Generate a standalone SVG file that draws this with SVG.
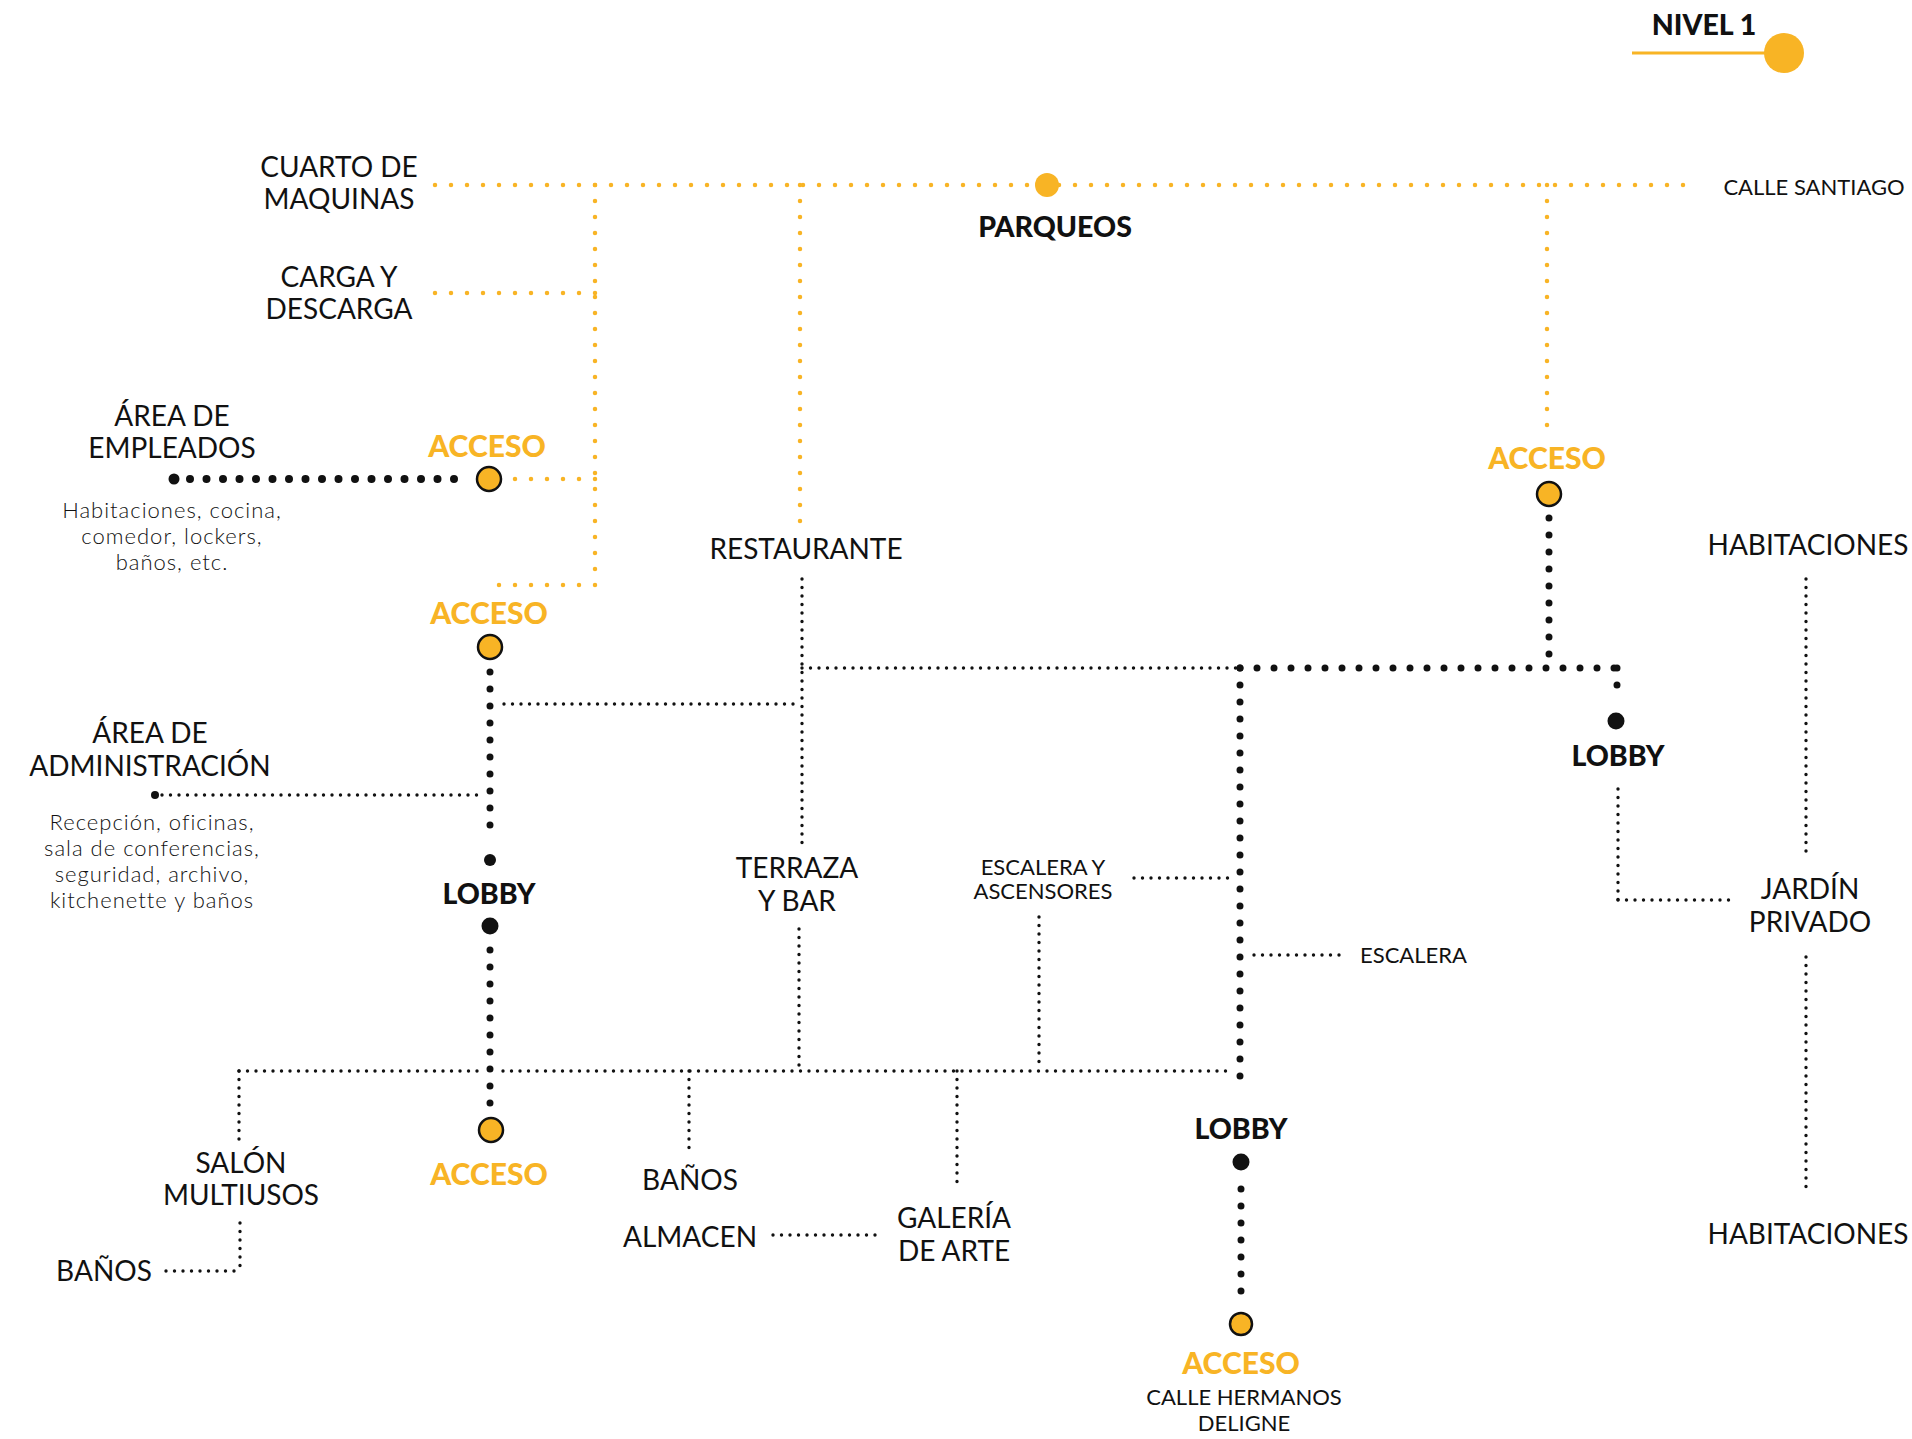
<svg xmlns="http://www.w3.org/2000/svg" width="1912" height="1439" viewBox="0 0 1912 1439">
<style>
.y{stroke:#F8B425;stroke-width:4.5;stroke-dasharray:0 16;stroke-linecap:round;fill:none}
.ks{stroke:#111;stroke-width:3.4;stroke-dasharray:0 8.5;stroke-linecap:round;fill:none}
.kb{stroke:#111;stroke-width:7;stroke-dasharray:0 17;stroke-linecap:round;fill:none}
.ke{stroke:#111;stroke-width:8;stroke-dasharray:0 16.5;stroke-linecap:round;fill:none}
.lbl{font-family:Lato,"Liberation Sans",sans-serif;font-size:28px;fill:#111;text-anchor:middle}
.b{font-family:Lato,"Liberation Sans",sans-serif;font-size:28.5px;font-weight:900;fill:#111;text-anchor:middle}
.acc{font-family:Lato,"Liberation Sans",sans-serif;font-size:30px;font-weight:900;fill:#F8B425;text-anchor:middle}
.sub{font-family:Lato,"Liberation Sans",sans-serif;font-size:22px;font-weight:300;letter-spacing:1px;fill:#111;text-anchor:middle}
.sm{font-family:Lato,"Liberation Sans",sans-serif;font-size:22px;font-weight:400;fill:#111;text-anchor:middle}
.accdot{fill:#F8B425;stroke:#111;stroke-width:2.5}
</style>
<rect width="1912" height="1439" fill="#fff"/>
<g id="connectors">
  <line class="y" x1="435" y1="185" x2="1697" y2="185"/>
  <line class="y" x1="595" y1="185" x2="595" y2="585"/>
  <line class="y" x1="595" y1="585" x2="491" y2="585"/>
  <line class="y" x1="595" y1="293" x2="429" y2="293"/>
  <line class="y" x1="595" y1="479" x2="512" y2="479"/>
  <line class="y" x1="800" y1="185" x2="800" y2="524"/>
  <line class="y" x1="1547" y1="185" x2="1547" y2="429"/>
  <line x1="1632" y1="53" x2="1784" y2="53" stroke="#F8B425" stroke-width="3"/>
  <line class="ke" x1="190" y1="479" x2="470" y2="479"/>
  <circle cx="174" cy="479" r="5.5" fill="#111"/>
  <line class="kb" x1="490" y1="672" x2="490" y2="842"/>
  <circle cx="490" cy="860" r="6" fill="#111"/>
  <circle cx="490" cy="926" r="8.5" fill="#111"/>
  <line class="kb" x1="490" y1="950" x2="490" y2="1108"/>
  <line class="ks" x1="162" y1="795" x2="479" y2="795"/>
  <circle cx="155" cy="795" r="4" fill="#111"/>
  <line class="ks" x1="504" y1="704" x2="801" y2="704"/>
  <line class="ks" x1="802" y1="579" x2="802" y2="845"/>
  <line class="ks" x1="802" y1="668" x2="1236" y2="668"/>
  <line class="kb" x1="1240" y1="668" x2="1617" y2="668"/>
  <line class="kb" x1="1549" y1="518" x2="1549" y2="658"/>
  <line class="kb" x1="1617" y1="668" x2="1617" y2="702"/>
  <circle cx="1616" cy="721" r="8.5" fill="#111"/>
  <line class="kb" x1="1240" y1="668" x2="1240" y2="1091"/>
  <circle cx="1241" cy="1162" r="8.5" fill="#111"/>
  <line class="kb" x1="1241" y1="1189" x2="1241" y2="1299"/>
  <line class="ks" x1="1618" y1="789" x2="1618" y2="900"/>
  <line class="ks" x1="1618" y1="900" x2="1732" y2="900"/>
  <line class="ks" x1="1806" y1="579" x2="1806" y2="854"/>
  <line class="ks" x1="1806" y1="957" x2="1806" y2="1195"/>
  <line class="ks" x1="1134" y1="878" x2="1234" y2="878"/>
  <line class="ks" x1="1039" y1="917" x2="1039" y2="1067"/>
  <line class="ks" x1="1254" y1="955" x2="1345" y2="955"/>
  <line class="ks" x1="799" y1="929" x2="799" y2="1067"/>
  <line class="ks" x1="239" y1="1071" x2="478" y2="1071"/>
  <line class="ks" x1="503" y1="1071" x2="1232" y2="1071"/>
  <line class="ks" x1="239" y1="1071" x2="239" y2="1140"/>
  <line class="ks" x1="240" y1="1223" x2="240" y2="1271"/>
  <line class="ks" x1="166" y1="1271" x2="240" y2="1271"/>
  <line class="ks" x1="689" y1="1071" x2="689" y2="1150"/>
  <line class="ks" x1="773" y1="1235" x2="880" y2="1235"/>
  <line class="ks" x1="957" y1="1071" x2="957" y2="1189"/>
</g>
<g id="nivel1"><text class="b" x="1704" y="35">NIVEL 1</text><circle cx="1784" cy="53" r="20" fill="#F8B425"/></g>
<g id="cuarto"><text class="lbl" x="339" y="177">CUARTO DE</text><text class="lbl" x="339" y="209">MAQUINAS</text></g>
<g id="carga"><text class="lbl" x="339" y="287">CARGA Y</text><text class="lbl" x="339" y="319">DESCARGA</text></g>
<g id="parqueos"><circle cx="1047" cy="185" r="12" fill="#F8B425"/><text class="b" x="1055" y="237">PARQUEOS</text></g>
<g id="calle-santiago"><text class="sm" x="1814" y="195" font-weight="300">CALLE SANTIAGO</text></g>
<g id="empleados"><text class="lbl" x="172" y="426">ÁREA DE</text><text class="lbl" x="172" y="458">EMPLEADOS</text>
<text class="sub" x="172" y="518">Habitaciones, cocina,</text><text class="sub" x="172" y="544">comedor, lockers,</text><text class="sub" x="172" y="570">baños, etc.</text></g>
<g id="acceso1"><text class="acc" x="487" y="457">ACCESO</text><circle class="accdot" cx="489" cy="479" r="12"/></g>
<g id="acceso2"><text class="acc" x="489" y="624">ACCESO</text><circle class="accdot" cx="490" cy="647" r="12"/></g>
<g id="restaurante"><text class="lbl" x="806" y="559">RESTAURANTE</text></g>
<g id="acceso3"><text class="acc" x="1547" y="469">ACCESO</text><circle class="accdot" cx="1549" cy="494" r="12"/></g>
<g id="habitaciones1"><text class="lbl" x="1808" y="555">HABITACIONES</text></g>
<g id="admin"><text class="lbl" x="150" y="743">ÁREA DE</text><text class="lbl" x="150" y="776">ADMINISTRACIÓN</text>
<text class="sub" x="152" y="830">Recepción, oficinas,</text><text class="sub" x="152" y="856">sala de conferencias,</text><text class="sub" x="152" y="882">seguridad, archivo,</text><text class="sub" x="152" y="908">kitchenette y baños</text></g>
<g id="lobby-left"><text class="b" x="489" y="904">LOBBY</text></g>
<g id="terraza"><text class="lbl" x="797" y="878">TERRAZA</text><text class="lbl" x="797" y="911">Y BAR</text></g>
<g id="escalera-asc"><text class="sm" x="1043" y="875">ESCALERA Y</text><text class="sm" x="1043" y="899">ASCENSORES</text></g>
<g id="lobby-right"><text class="b" x="1618" y="766">LOBBY</text></g>
<g id="jardin"><text class="lbl" x="1810" y="899">JARDÍN</text><text class="lbl" x="1810" y="932">PRIVADO</text></g>
<g id="escalera"><text class="sm" x="1360" y="963" style="text-anchor:start">ESCALERA</text></g>
<g id="lobby-center"><text class="b" x="1241" y="1139">LOBBY</text></g>
<g id="salon"><text class="lbl" x="241" y="1173">SALÓN</text><text class="lbl" x="241" y="1205">MULTIUSOS</text></g>
<g id="banos-left"><text class="lbl" x="104" y="1281">BAÑOS</text></g>
<g id="acceso4"><circle class="accdot" cx="491" cy="1130" r="12"/><text class="acc" x="489" y="1185">ACCESO</text></g>
<g id="banos"><text class="lbl" x="690" y="1190">BAÑOS</text></g>
<g id="almacen"><text class="lbl" x="690" y="1247">ALMACEN</text></g>
<g id="galeria"><text class="lbl" x="954" y="1228">GALERÍA</text><text class="lbl" x="954" y="1261">DE ARTE</text></g>
<g id="habitaciones2"><text class="lbl" x="1808" y="1244">HABITACIONES</text></g>
<g id="acceso5"><circle class="accdot" cx="1241" cy="1324" r="11"/><text class="acc" x="1241" y="1374">ACCESO</text>
<text class="sm" x="1244" y="1405" font-weight="300">CALLE HERMANOS</text><text class="sm" x="1244" y="1431" font-weight="300">DELIGNE</text></g>
</svg>
